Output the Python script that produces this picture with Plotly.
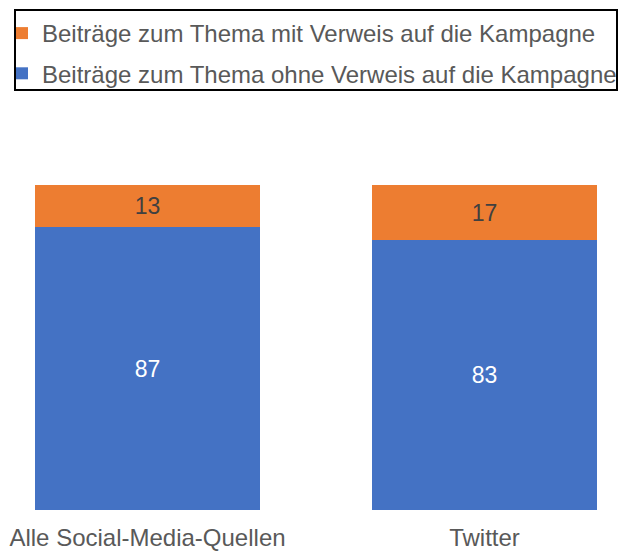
import plotly.graph_objects as go

categories = ["Alle Social-Media-Quellen", "Twitter"]
ohne_verweis = [87, 83]
mit_verweis = [13, 17]

W, H = 619, 551
plot_top, plot_bottom = 185, 510
plot_h = plot_bottom - plot_top


def py(p):
    # screen pixel row -> paper y
    return (plot_bottom - p) / plot_h


fig = go.Figure()
fig.add_trace(go.Bar(
    x=categories, y=ohne_verweis, name="Beiträge zum Thema ohne Verweis auf die Kampagne",
    marker=dict(color="#4472C4", line=dict(width=0)), width=0.668,
    text=ohne_verweis, textposition="inside", insidetextanchor="middle",
    textfont=dict(size=23, color="white"), legendrank=2, legendgroup="ohne",
))
fig.add_trace(go.Bar(
    x=categories, y=mit_verweis, name="Beiträge zum Thema mit Verweis auf die Kampagne",
    marker=dict(color="#ED7D31", line=dict(width=0)), width=0.668,
    text=mit_verweis, textposition="inside", insidetextanchor="middle",
    textfont=dict(size=23, color="#404040"), legendrank=1, legendgroup="mit",
))

# legend frame
fig.add_shape(type="rect", xref="paper", yref="paper",
              x0=15 / W, x1=617 / W, y0=py(90), y1=py(10),
              line=dict(color="black", width=2), fillcolor="rgba(0,0,0,0)")

fig.update_layout(
    width=W, height=H,
    barmode="stack",
    plot_bgcolor="white", paper_bgcolor="white",
    font=dict(family="Arial", size=24, color="#595959"),
    margin=dict(l=0, r=0, t=plot_top, b=H - plot_bottom, autoexpand=False),
    uniformtext=dict(minsize=23, mode="show"),
    showlegend=True,
    legend=dict(
        x=2 / W, y=py(11), xanchor="left", yanchor="top",
        borderwidth=0, bgcolor="rgba(0,0,0,0)",
        traceorder="grouped", tracegroupgap=6,
        font=dict(size=24, color="#595959"),
    ),
    xaxis=dict(range=[-0.4377, 1.399], showgrid=False, showline=False, ticks="",
               ticklabelstandoff=11, tickfont=dict(size=24, color="#595959")),
    yaxis=dict(range=[0, 100], visible=False),
)

fig.write_html("out.html", config={"displayModeBar": False},
               post_script="document.body.style.margin='0';")
